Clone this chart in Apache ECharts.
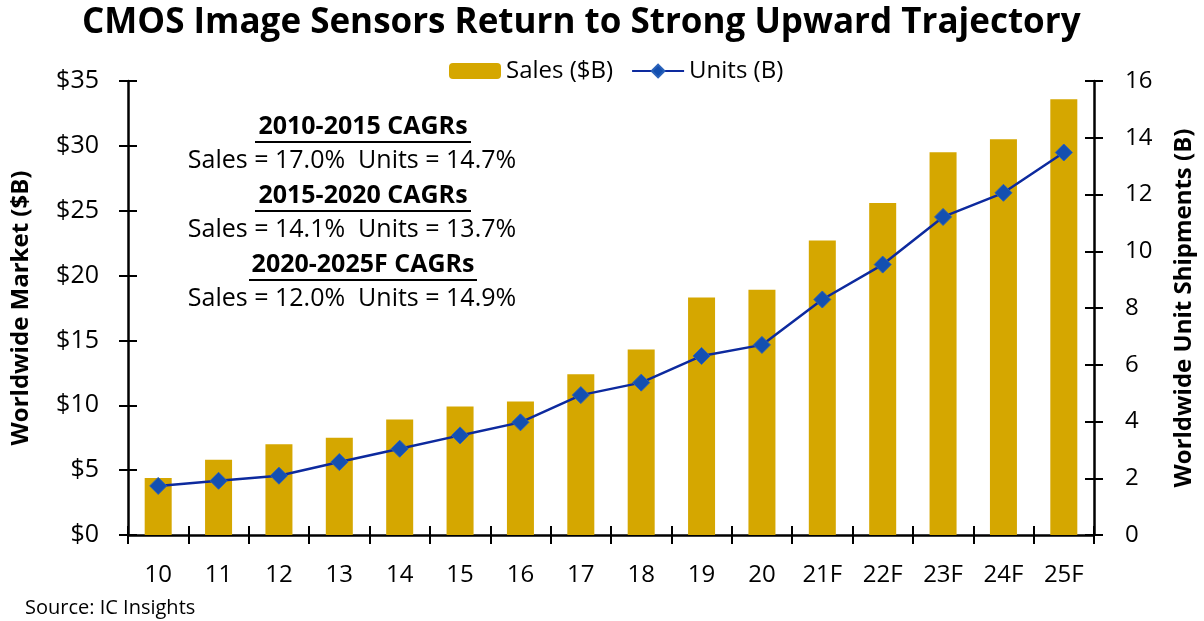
<!DOCTYPE html>
<html>
<head>
<meta charset="utf-8">
<script src="https://cdn.jsdelivr.net/npm/echarts@6/dist/echarts.min.js"></script>
<style>
  html, body { margin: 0; padding: 0; background: #fff; }
  #chart { width: 1204px; height: 621px; }
</style>
</head>
<body>
<div id="chart"></div>
<script>
// data
const years = ['10', '11', '12', '13', '14', '15', '16', '17', '18', '19', '20', '21F', '22F', '23F', '24F', '25F']
const sales = [4.4, 5.8, 7.0, 7.5, 8.9, 9.9, 10.3, 12.4, 14.3, 18.3, 18.9, 22.7, 25.6, 29.5, 30.5, 33.6] // $B
const units = [1.73, 1.91, 2.09, 2.57, 3.04, 3.51, 3.97, 4.93, 5.37, 6.31, 6.70, 8.30, 9.53, 11.21, 12.06, 13.48] // B
const cagrHeads = ['2010-2015 CAGRs', '2015-2020 CAGRs', '2020-2025F CAGRs']
const cagrLines = ['Sales = 17.0%  Units = 14.7%', 'Sales = 14.1%  Units = 13.7%', 'Sales = 12.0%  Units = 14.9%']

const FONT = '"Open Sans", sans-serif'
const BAR = '#d5a700'
const LINE = '#0d2a9e'

const chart = echarts.init(document.getElementById('chart'))

// CAGR note block (text + underline)
const notes = []
const headY = [127, 196, 265]
cagrHeads.forEach((h, i) => {
  notes.push({
    type: 'text',
    style: { text: h, x: 363, y: headY[i], align: 'center', verticalAlign: 'middle',
      font: 'bold 25px ' + FONT, fill: '#000' }
  })
  const w = i === 2 ? 228 : 216
  notes.push({
    type: 'line',
    shape: { x1: 363 - w / 2, y1: headY[i] + 15, x2: 363 + w / 2, y2: headY[i] + 15 },
    style: { stroke: '#000', lineWidth: 2 }
  })
  notes.push({
    type: 'text',
    style: { text: cagrLines[i], x: 352, y: headY[i] + 34, align: 'center', verticalAlign: 'middle',
      font: '25px ' + FONT, fill: '#000' }
  })
})
notes.push({
  type: 'text',
  style: { text: 'Source: IC Insights', x: 25, y: 608, verticalAlign: 'middle', font: '20px ' + FONT, fill: '#000' }
})

const axisLine = { show: true, lineStyle: { color: '#000', width: 2.5 } }
const tickOut = { show: true, inside: false, length: 9, lineStyle: { color: '#000', width: 2 } }
const tickIn = { show: true, inside: true, length: 9, lineStyle: { color: '#000', width: 2 } }

chart.setOption({
  animation: false,
  textStyle: { fontFamily: FONT },
  title: {
    text: 'CMOS Image Sensors Return to Strong Upward Trajectory',
    left: 77, top: 1,
    textStyle: { fontSize: 35, fontWeight: 'bold', color: '#000', fontFamily: FONT }
  },
  legend: {
    left: 444, top: 54,
    itemWidth: 52, itemHeight: 16, itemGap: 18,
    textStyle: { fontSize: 24, color: '#000', fontFamily: FONT },
    data: ['Sales ($B)', 'Units (B)']
  },
  grid: { left: 128, right: 109, top: 81, bottom: 86 },
  xAxis: [
    {
      type: 'category', data: years,
      axisLine: axisLine, axisTick: tickOut,
      axisLabel: { fontSize: 24, color: '#000', margin: 28, fontFamily: FONT }
    },
    {
      type: 'category', data: years, position: 'bottom',
      axisLine: { show: false }, axisTick: tickIn, axisLabel: { show: false }
    }
  ],
  yAxis: [
    {
      type: 'value', min: 0, max: 35, interval: 5, position: 'left',
      name: 'Worldwide Market ($B)', nameLocation: 'middle', nameGap: 95, nameRotate: 90,
      nameTextStyle: { fontSize: 24, fontWeight: 'bold', color: '#000', fontFamily: FONT },
      axisLine: axisLine, axisTick: tickOut, splitLine: { show: false },
      axisLabel: { formatter: '${value}', fontSize: 25, color: '#000', margin: 29, fontFamily: FONT }
    },
    {
      type: 'value', min: 0, max: 16, interval: 2, position: 'right',
      name: 'Worldwide Unit Shipments (B)', nameLocation: 'middle', nameGap: 78, nameRotate: 90,
      nameTextStyle: { fontSize: 24, fontWeight: 'bold', color: '#000', fontFamily: FONT },
      axisLine: axisLine, axisTick: tickOut, splitLine: { show: false },
      axisLabel: { fontSize: 24, color: '#000', margin: 31, fontFamily: FONT }
    },
    {
      type: 'value', min: 0, max: 35, interval: 5, position: 'left',
      axisLine: { show: false }, axisTick: tickIn, axisLabel: { show: false }, splitLine: { show: false }
    },
    {
      type: 'value', min: 0, max: 16, interval: 2, position: 'right',
      axisLine: { show: false }, axisTick: tickIn, axisLabel: { show: false }, splitLine: { show: false }
    }
  ],
  series: [
    {
      name: 'Sales ($B)', type: 'bar', yAxisIndex: 0,
      barWidth: 27, data: sales,
      itemStyle: { color: BAR }
    },
    {
      name: 'Units (B)', type: 'line', yAxisIndex: 1,
      data: units,
      symbol: 'diamond', symbolSize: 17,
      lineStyle: { color: LINE, width: 2.5 },
      itemStyle: { color: '#1450b0', borderColor: '#2a62ba', borderWidth: 1 },
      z: 5
    }
  ],
  graphic: notes
})
</script>
</body>
</html>
